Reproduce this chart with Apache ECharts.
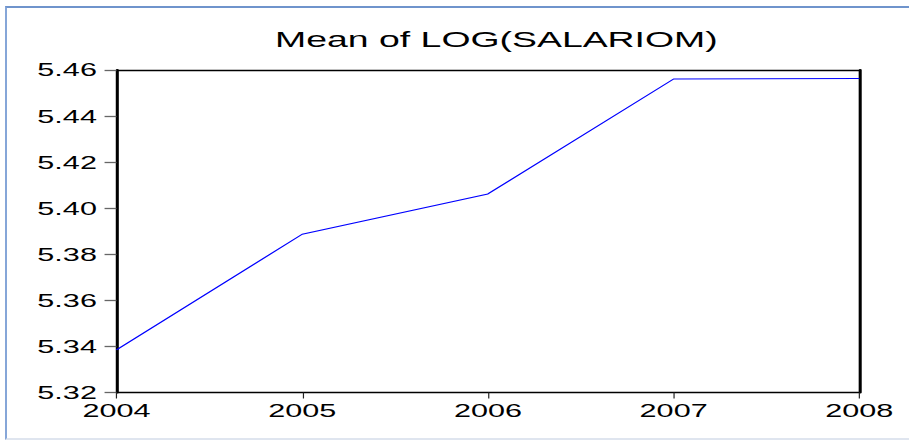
<!DOCTYPE html>
<html>
<head>
<meta charset="utf-8">
<script src="https://cdn.jsdelivr.net/npm/echarts@6/dist/echarts.min.js"></script>
<style>
  html, body { margin: 0; padding: 0; background: #fff; }
  #frame {
    position: absolute; left: 5px; top: 6px; width: 910px; height: 430px;
    border-top: 2px solid #6f94cc; border-left: 2px solid #86a6d8; border-bottom: 2px solid #dfe5ef;
    pointer-events: none;
  }
  /* the reference is stretched horizontally, so the chart is drawn narrow and scaled */
  #chart {
    position: absolute; left: 0; top: 0; width: 535px; height: 440px;
    transform: scaleX(1.7); transform-origin: 0 0;
  }
</style>
</head>
<body>
<div id="chart"></div>
<div id="frame"></div>
<script>
var years = ['2004', '2005', '2006', '2007', '2008'];
var meanLogSalario = [5.3385, 5.3887, 5.4062, 5.4561, 5.4563];
var yMin = 5.32, yMax = 5.46, yStep = 0.02;

var chart = echarts.init(document.getElementById('chart'), null, {renderer: 'svg'});

var font = 'Liberation Sans, Arial, sans-serif';

chart.setOption({
  backgroundColor: 'transparent',
  animation: false,
  title: {
    text: 'Mean of LOG(SALARIOM)',
    left: 287, top: 23, textAlign: 'center',
    textStyle: {fontFamily: font, fontWeight: 'normal', fontSize: 22, color: '#000'}
  },
  grid: {left: 68.5, right: 29.5, top: 70, bottom: 47.5, containLabel: false},
  xAxis: [
    {
      type: 'category', data: years, boundaryGap: false, position: 'bottom',
      axisLine: {lineStyle: {color: '#000', width: 1.3}},
      axisTick: {show: true, alignWithLabel: true, length: 6, lineStyle: {color: '#222', width: 0.7}},
      axisLabel: {margin: 9, fontFamily: font, fontSize: 18, color: '#000'},
      splitLine: {show: false}
    },
    {
      type: 'category', data: years, boundaryGap: false, position: 'top',
      axisLine: {lineStyle: {color: '#000', width: 1.3}},
      axisTick: {show: false}, axisLabel: {show: false}, splitLine: {show: false}
    }
  ],
  yAxis: [
    {
      type: 'value', min: yMin, max: yMax, interval: yStep, position: 'left',
      axisLine: {show: true, lineStyle: {color: '#000', width: 1.8}},
      axisTick: {show: true, length: 7, lineStyle: {color: '#666', width: 1.3}},
      axisLabel: {margin: 11.5, fontFamily: font, fontSize: 18, color: '#000',
        formatter: function (v) { return v.toFixed(2); }},
      splitLine: {show: false}
    },
    {
      type: 'value', min: yMin, max: yMax, interval: yStep, position: 'right',
      axisLine: {show: true, lineStyle: {color: '#000', width: 1.8}},
      axisTick: {show: false}, axisLabel: {show: false}, splitLine: {show: false}
    }
  ],
  series: [
    {
      name: 'Mean of LOG(SALARIOM)', type: 'line', data: meanLogSalario,
      xAxisIndex: 0, yAxisIndex: 0,
      showSymbol: false, smooth: false,
      lineStyle: {color: '#0000ff', width: 1}
    }
  ]
});
</script>
</body>
</html>
